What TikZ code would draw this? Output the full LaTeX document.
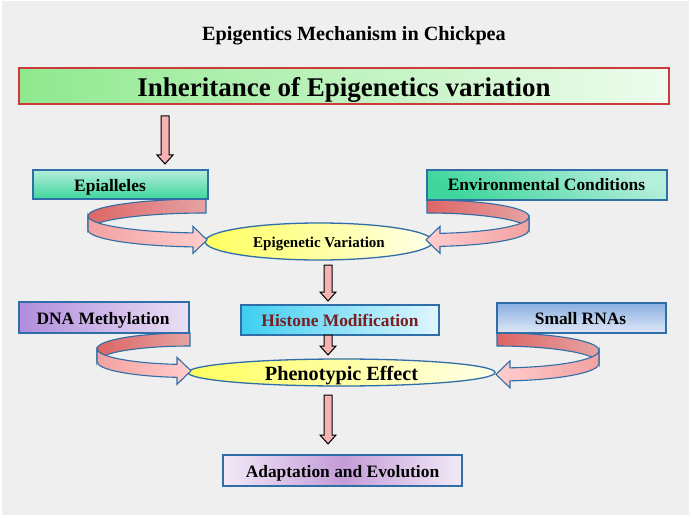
\documentclass[tikz,border=0pt]{standalone}
\usepackage{fontspec}
\setmainfont{Liberation Serif}
\usetikzlibrary{shapes.geometric,calc}
\definecolor{bg}{HTML}{EFEFEF}
\definecolor{bdr}{HTML}{2F6EA6}
\definecolor{redbdr}{HTML}{CC3A3A}
\definecolor{mainL}{HTML}{8FE98F}
\definecolor{mainR}{HTML}{EEFCEE}
\definecolor{epiTop}{HTML}{B5EEDB}
\definecolor{epiBot}{HTML}{3ED69C}
\definecolor{dnaL}{HTML}{B18DDC}
\definecolor{dnaR}{HTML}{EAE0F5}
\definecolor{hisL}{HTML}{3DCFF2}
\definecolor{hisR}{HTML}{E0F6FD}
\definecolor{srTop}{HTML}{8AAFE2}
\definecolor{srBot}{HTML}{DFE8F6}
\definecolor{adE}{HTML}{F2EAF7}
\definecolor{adM}{HTML}{C49CD8}
\definecolor{ellL}{HTML}{FFFF5E}
\definecolor{ellR}{HTML}{FFFFE8}
\definecolor{rbA}{HTML}{DD6565}
\definecolor{rbB}{HTML}{E6A3A3}
\definecolor{rfA}{HTML}{F3A1A1}
\definecolor{rfB}{HTML}{FFCDCD}
\definecolor{arrowpink}{HTML}{F5B3B3}
\definecolor{histext}{HTML}{7A1E22}

% ribbon curling to the left, arrow pointing right: cx, cy, rx, ry, h
\newcommand{\ribbonL}[5]{%
  \pgfmathsetmacro\rte{acos(-13/#3)}%
  \pgfmathsetmacro\rht{#5/2}%
  \pgfmathsetmacro\ryc{#2+#4*sin(\rte)}%
  \path[ribback] (#1,#2-#4-\rht) arc[start angle=270,end angle=180,x radius=#3,y radius=#4]
     -- ++(0,#5) arc[start angle=180,end angle=270,x radius=#3,y radius=#4] -- cycle;
  \path[ribfront, left color=rfA, right color=rfB] (#1-#3,#2-\rht)
     arc[start angle=180,end angle=\rte,x radius=#3,y radius=#4]
     -- (#1-13,\ryc-13.5) -- (#1+1,\ryc) -- (#1-13,\ryc+13.5) -- (#1-13,\ryc+\rht)
     arc[start angle=\rte,end angle=180,x radius=#3,y radius=#4] -- cycle;}
% ribbon curling to the right, arrow pointing left
\newcommand{\ribbonR}[5]{%
  \pgfmathsetmacro\rte{acos(13/#3)}%
  \pgfmathsetmacro\rht{#5/2}%
  \pgfmathsetmacro\ryc{#2+#4*sin(\rte)}%
  \path[ribback] (#1,#2-#4-\rht) arc[start angle=270,end angle=360,x radius=#3,y radius=#4]
     -- ++(0,#5) arc[start angle=360,end angle=270,x radius=#3,y radius=#4] -- cycle;
  \path[ribfront, left color=rfB, right color=rfA] (#1+#3,#2-\rht)
     arc[start angle=0,end angle=\rte,x radius=#3,y radius=#4]
     -- (#1+13,\ryc-13.5) -- (#1-1,\ryc) -- (#1+13,\ryc+13.5) -- (#1+13,\ryc+\rht)
     arc[start angle=\rte,end angle=0,x radius=#3,y radius=#4] -- cycle;}
% block arrow down: x, from anchor, to anchor, gap at start, gap at end
\newcommand{\blockdown}[5]{%
  \path[dnarrow] let \p1=(#2), \p2=(#3) in
    (#1pt-4pt,\y1-#4pt) -- (#1pt+4pt,\y1-#4pt) -- (#1pt+4pt,\y2+#5pt+9pt)
    -- (#1pt+8pt,\y2+#5pt+9pt) -- (#1pt,\y2+#5pt) -- (#1pt-8pt,\y2+#5pt+9pt)
    -- (#1pt-4pt,\y2+#5pt+9pt) -- cycle;}

\begin{document}
\begin{tikzpicture}[x=1pt,y=-1pt,
  box/.style={rectangle, draw=bdr, line width=1.3pt, inner sep=0pt, outer sep=0pt, anchor=north west},
  ell/.style={ellipse, draw=bdr, line width=1.3pt, inner sep=0pt, outer sep=0pt, left color=ellL, right color=ellR},
  txt/.style={inner sep=0pt, anchor=base, font=\bfseries\fontsize{17.4}{20}\selectfont},
  ribback/.style={draw=bdr, line width=1.1pt, left color=rbA, right color=rbB},
  ribfront/.style={draw=bdr, line width=1.1pt},
  dnarrow/.style={draw=black, line width=1pt, fill=arrowpink, line join=miter},
]
\useasboundingbox (0,0) rectangle (692,518);
\fill[white] (0,0) rectangle (692,518);
\fill[bg] (1.5,1.5) rectangle (689,514.5);

% title
\node[txt, font=\bfseries\fontsize{20.2}{24}\selectfont] (title) at (354,40.7) {Epigentics Mechanism in Chickpea};

% ellipses
\node[ell, minimum width=228pt, minimum height=37pt] (ev) at (319,241.5) {};
\node[ell, minimum width=307pt, minimum height=27pt] (pe) at (341.5,372.5) {};

% ribbons
\ribbonL{206}{223}{118}{17}{14}
\ribbonR{427}{223.25}{102}{16.75}{13}
\ribbonL{190}{355.25}{93}{15.75}{13}
\ribbonR{497}{357}{102}{17.5}{13}

% boxes
\node[box, draw=redbdr, left color=mainL, right color=mainR, minimum width=650pt, minimum height=36pt] (main) at (19,68) {};
\node[box, top color=epiTop, bottom color=epiBot, minimum width=175pt, minimum height=29pt] (epi) at (33,170) {};
\node[box, top color=epiTop, bottom color=epiBot, shading angle=-30, minimum width=240pt, minimum height=30pt] (env) at (427,170) {};
\node[box, left color=dnaL, right color=dnaR, minimum width=170pt, minimum height=31pt] (dna) at (19,302) {};
\node[box, left color=hisL, right color=hisR, minimum width=198pt, minimum height=30pt] (his) at (241,305) {};
\node[box, top color=srTop, bottom color=srBot, minimum width=169pt, minimum height=30pt] (srna) at (497,303) {};
\node[box, left color=adE, right color=adE, middle color=adM, minimum width=239pt, minimum height=31pt] (adapt) at (223,455) {};

% texts
\node[txt, font=\bfseries\fontsize{27}{30}\selectfont] (mainT) at (344,97) {Inheritance of Epigenetics variation};
\node[txt] (epiT) at (110,191.7) {Epialleles};
\node[txt] (envT) at (546.5,191) {Environmental Conditions};
\node[txt, font=\bfseries\fontsize{15}{18}\selectfont] (evT) at (319,247.3) {Epigenetic Variation};
\node[txt, text=histext] (hisT) at (340,326.7) {Histone Modification};
\node[txt] (dnaT) at (103,324.3) {DNA Methylation};
\node[txt] (srnaT) at (580.5,324.3) {Small RNAs};
\node[txt, font=\bfseries\fontsize{20.2}{24}\selectfont] (peT) at (341.5,380) {Phenotypic Effect};
\node[txt] (adaptT) at (342.5,477.3) {Adaptation and Evolution};

% block arrows
\blockdown{165}{main.south}{epi.north}{12}{6}
\blockdown{328}{ev.south}{his.north}{5}{4}
\blockdown{328}{his.south}{pe.north}{0}{4}
\blockdown{328}{pe.south}{adapt.north}{9}{11}
\end{tikzpicture}
\end{document}
